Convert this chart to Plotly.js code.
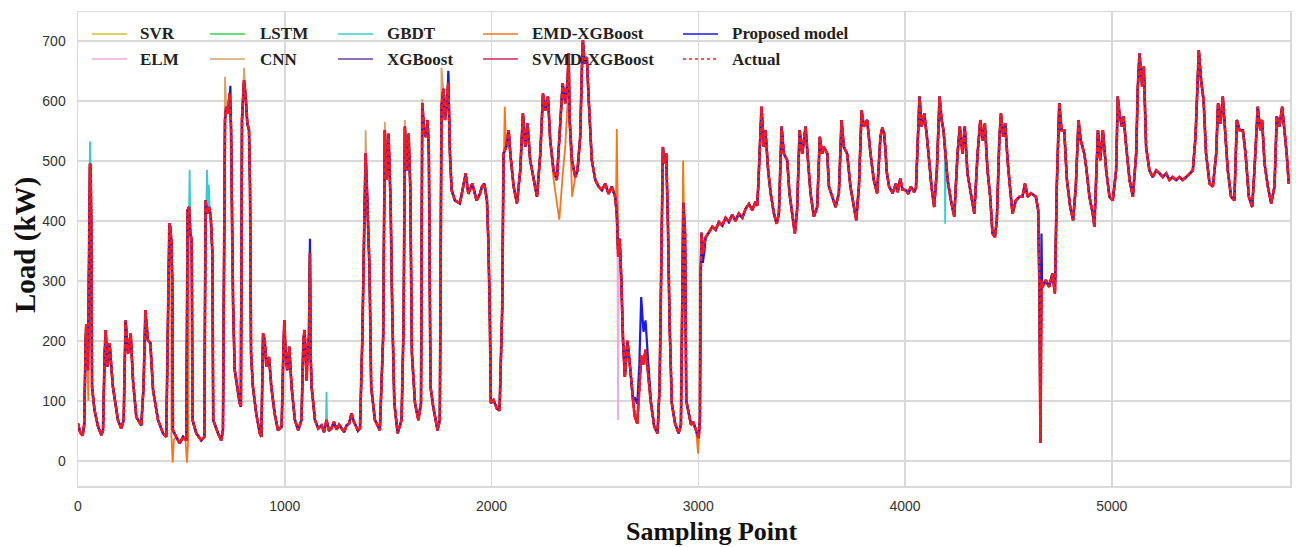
<!DOCTYPE html>
<html>
<head>
<meta charset="utf-8">
<script src="https://cdn.plot.ly/plotly-3.0.1.min.js"></script>
<style>html,body{margin:0;padding:0;background:#fff;}#chart{width:1296px;height:547px;}</style>
</head>
<body>
<div id="chart"></div>
<script>
// ---- Actual load (sampling index, kW) ----
var sampleIdx = [0,10,22,30,37,40,48,53,58,61,64,68,80,97,113,121,
129,134,142,153,161,169,193,209,221,
230,242,255,266,282,306,317,
326,338,350,363,387,411,427,
434,442,446,451,456,459,475,492,508,524,
530,537,543,550,554,572,596,611,
617,625,634,642,650,654,677,693,701,
711,717,725,733,740,745,750,758,769,782,788,
793,803,811,819,827,832,837,846,862,879,887,
895,903,911,924,935,951,967,
985,993,998,1004,1012,1022,1033,1049,1065,1081,
1090,1096,1106,1110,1117,1122,1125,1130,1146,1162,
1178,1190,1202,1214,1226,1238,1251,1263,1275,1287,1299,1311,1323,1333,1343,1354,1364,
1375,1385,1391,1397,1404,1410,1418,1436,1460,
1476,1484,1493,1502,1512,1520,1530,1546,1565,
1575,1581,1589,1599,1607,1615,1630,1646,1659,
1665,1675,1683,1691,1697,1705,1718,1739,1750,
1758,1767,1775,1783,1791,1799,1807,1823,1847,1863,1875,1888,1907,1928,1944,
1954,1965,1978,1984,1991,1997,2010,2026,2039,2045,2052,2058,2071,2083,2091,2107,2123,2139,2152,2163,2174,2187,2203,2220,2236,2249,2260,2273,2284,2300,2316,2332,2344,2357,2368,2373,2378,2389,2405,2416,2429,2437,2442,2450,2461,2471,2485,2502,2518,2534,2550,2566,2582,2598,2606,
2613,2620,2628,2636,2645,2657,2668,2680,2692,2705,2715,2724,2733,2745,2756,2771,2787,2803,
2813,2821,2829,2837,2845,2853,2861,2872,2888,2905,2916,
2928,2936,2942,2955,2965,2975,2985,2995,3002,3008,3011,
3016,3022,3035,3051,3068,3084,3100,3116,3132,3148,3164,3180,3196,3213,3229,3245,3261,3277,3285,
3290,3298,3306,3317,3325,3338,3350,3366,3379,3390,3403,3414,3430,3441,3454,3467,3478,3490,3503,3519,3532,3543,3559,3575,3588,3599,3607,3624,3632,3648,3664,3680,3693,3704,3720,3736,3752,3764,3777,3790,3801,3817,3833,3849,3865,3881,3890,
3899,3905,3912,3923,3940,3956,3965,3977,3988,4004,4016,4028,4044,4053,4061,4070,4080,4093,4106,4117,4128,4141,4154,4167,4177,4186,4194,4206,4222,4238,4254,4265,4278,4289,4302,4318,4335,4351,4364,4375,4386,4399,4412,4423,4435,4444,4456,4464,4475,4485,4496,4509,4520,4536,4553,4568,4580,4593,4609,4633,4644,
4650,4655,4660,4665,4681,4697,4713,4725,4734,4746,4757,4770,4783,4799,4813,4826,4839,4850,4867,
4876,4892,4908,4916,4924,4933,4944,4957,4973,4989,5005,5021,5029,5037,5049,5057,5070,5086,5102,5118,5126,5134,5147,5155,5166,5182,5198,5215,5231,5247,5263,5279,5295,5311,5327,5343,5360,5376,5392,5405,5413,5421,5432,5444,5456,5473,5489,5505,5514,5526,5537,5550,5561,5577,5593,5605,5618,5634,5647,5663,5679,5690,5706,5718,5727,5739,5755,5771,5787,5798,5811,5824,5835,5846,5856];

var actualLoad = [62,48,42,60,201,228,151,290,495,490,401,123,84,57,43,51,
179,218,157,196,157,123,68,54,68,
234,179,212,134,73,59,123,
251,201,196,118,68,46,40,
234,396,390,368,301,51,40,29,40,34,
418,423,379,368,68,46,34,40,
434,412,423,407,346,68,46,34,51,
568,590,579,612,557,401,262,151,123,96,90,
568,634,607,562,551,457,179,123,79,46,40,
212,201,157,173,123,79,51,
57,179,234,179,151,190,123,68,51,68,
201,218,134,179,207,346,179,123,68,54,
59,48,68,50,54,65,52,60,54,48,59,62,79,66,59,50,54,
201,401,512,457,373,318,123,68,51,
207,551,468,545,429,246,96,46,68,
234,557,484,545,457,179,96,68,96,
596,545,540,568,512,123,90,51,68,
590,620,568,596,630,512,451,434,429,457,479,445,462,434,445,
457,462,434,373,262,96,101,87,84,179,257,512,523,551,512,457,429,484,579,523,562,501,468,440,512,612,584,607,534,484,468,568,629,596,634,679,568,501,473,484,540,651,701,662,673,596,501,468,457,451,462,445,457,440,412,
340,370,300,200,140,200,165,120,75,62,120,175,160,185,150,96,57,46,
123,346,523,495,512,401,234,96,62,46,60,
430,380,100,75,60,65,55,45,38,70,300,
380,345,372,380,390,385,398,392,405,398,410,400,412,405,420,428,418,432,425,
457,540,590,523,551,484,446,412,395,412,557,512,501,446,412,379,418,551,512,557,495,446,407,423,540,512,523,512,457,440,423,446,568,523,512,457,423,401,457,584,557,568,512,468,446,540,555,
545,520,480,457,446,462,448,470,452,451,445,457,448,455,540,607,557,579,540,495,457,423,484,607,568,551,512,468,434,407,512,557,512,557,479,446,412,512,568,534,562,484,440,379,373,401,534,579,540,562,501,451,412,434,440,440,462,440,446,440,418,
290,30,300,290,301,290,312,279,457,596,551,551,468,423,401,457,568,534,512,
490,440,412,390,484,551,501,551,484,440,434,484,607,579,557,574,523,468,440,512,623,679,623,657,523,484,473,484,479,473,479,468,473,468,473,468,473,479,484,540,623,684,634,601,512,462,457,512,596,562,607,540,484,440,434,568,551,551,512,440,423,484,590,551,568,495,457,429,457,574,557,590,551,512,462];

// ---- Visible departures of each model from the actual curve: [sample, kW] ----
var svrDev  = [[[52,300],[58,530],[64,400]], [[2922,300],[2927,500],[2933,300]]];
var elmDev  = [[[778,100],[782,234],[786,100]], [[2608,480],[2612,68],[2616,320]]];
var lstmDev = [[[52,300],[58,520],[64,400]]];
var cnnDev  = [[[706,400],[711,640],[717,590]], [[796,580],[803,655],[811,607]], [[1387,420],[1391,551],[1397,457]], [[1480,400],[1484,565],[1493,468]], [[1577,400],[1581,568],[1589,484]], [[1661,450],[1665,603],[1675,545]], [[1754,400],[1758,655],[1767,620]]];
var gbdtDev = [[[52,300],[58,532],[64,400]], [[537,423],[540,485],[544,390]], [[620,420],[624,485],[628,420]], [[630,420],[633,460],[637,420]], [[1199,62],[1202,115],[1205,62]], [[4192,520],[4194,395],[4197,500]]];
var xgbDev  = [[[1787,600],[1791,645],[1797,530]]];
var emdDev  = [[[45,180],[50,100],[55,320]], [[452,40],[458,-3],[464,35]], [[520,35],[527,-3],[533,35]], [[2055,400],[2064,590],[2071,523]], [[2284,534],[2300,470],[2316,430],[2328,402],[2345,480],[2357,525],[2368,600],[2373,660],[2378,560],[2390,440],[2405,473]], [[2602,430],[2606,553],[2609,400]], [[2922,300],[2927,500],[2933,300]], [[2990,50],[2999,12],[3006,60]]];
var svmdDev = [];
var propDev = [[[731,590],[737,625],[742,520]], [[1119,300],[1122,370],[1125,179]], [[1787,600],[1791,650],[1797,530]], [[2684,100],[2692,106],[2705,95],[2715,160],[2724,273],[2735,215],[2745,234],[2756,175],[2771,100]], [[3016,380],[3022,330],[3030,350]], [[4657,200],[4660,379],[4663,290]]];

var seriesNames  = ['SVR','ELM','LSTM','CNN','GBDT','XGBoost','EMD-XGBoost','SVMD-XGBoost','Proposed model','Actual'];
var seriesColors = ['#d2c31e','#f0a8e6','#33d646','#d8a26a','#33cfd0','#6b3fa0','#f5761e','#d12a55','#1a1ae6','#ff1a1a'];

function build(dev){
  var pts = [];
  for (var i=0;i<sampleIdx.length;i++){
    var x = sampleIdx[i], keep = true;
    for (var s=0;s<dev.length;s++){
      var a = dev[s][0][0], b = dev[s][dev[s].length-1][0];
      if (x >= a && x <= b) { keep = false; break; }
    }
    if (keep) pts.push([x, actualLoad[i]]);
  }
  dev.forEach(function(seg){ seg.forEach(function(p){ pts.push(p); }); });
  pts.sort(function(p,q){ return p[0]-q[0]; });
  return {x: pts.map(function(p){return p[0];}), y: pts.map(function(p){return p[1];})};
}

var devs = [svrDev, elmDev, lstmDev, cnnDev, gbdtDev, xgbDev, emdDev, svmdDev, propDev, null];
var widths = [1.8,1.8,1.8,1.8,1.8,2.0,1.8,2.6,2.2,2.6];
var dashes = ['solid','solid','solid','solid','solid','solid','solid','solid','solid','5px,1.5px'];
var traces = [];
for (var k=0;k<seriesNames.length;k++){
  var d = devs[k] ? build(devs[k]) : {x: sampleIdx, y: actualLoad};
  traces.push({type:'scatter', mode:'lines', name: seriesNames[k], x: d.x, y: d.y,
    line: {color: seriesColors[k], width: widths[k], dash: dashes[k]},
    showlegend: false, hoverinfo: 'skip'});
}

// ---- manual legend (5 columns x 2 rows, like the reference) ----
var L = 78, R = 1290, T = 12, B = 486;
function px(x){ return (x - L)/(R - L); }
function py(y){ return (B - y)/(B - T); }
var legCols = [[92,138],[210,258],[338,385],[483,530],[683,730]];
var legRows = [34, 59];
var legOrder = [[0,1],[2,3],[4,5],[6,7],[8,9]];
var shapes = [], annotations = [];
legOrder.forEach(function(col, c){
  col.forEach(function(si, r){
    var yy = py(legRows[r]);
    shapes.push({type:'line', xref:'paper', yref:'paper', x0: px(legCols[c][0]), x1: px(legCols[c][0]+35), y0: yy, y1: yy,
      line:{color: seriesColors[si], width: 1.5, dash: si===9 ? 'dot' : 'solid'}});
    annotations.push({xref:'paper', yref:'paper', x: px(legCols[c][1]), y: yy, xanchor:'left', yanchor:'middle',
      text: '<b>' + seriesNames[si] + '</b>', showarrow:false,
      font:{family:'Liberation Serif, Times New Roman, serif', size:17, color:'#222'}});
  });
});
annotations.push({xref:'paper', yref:'paper', x: px(712), y: py(531), xanchor:'center', yanchor:'middle',
  text:'<b>Sampling Point</b>', showarrow:false, font:{family:'Liberation Serif, Times New Roman, serif', size:26, color:'#111'}});
annotations.push({xref:'paper', yref:'paper', x: px(25), y: py(245), xanchor:'center', yanchor:'middle', textangle:-90,
  text:'<b>Load (kW)</b>', showarrow:false, font:{family:'Liberation Serif, Times New Roman, serif', size:29, color:'#111'}});

var axisCommon = {showgrid:true, gridcolor:'#d9d9d9', gridwidth:1.5, zeroline:false, showline:true, mirror:true,
  linecolor:'#d9d9d9', linewidth:1.5, ticks:'', tickfont:{family:'Liberation Sans, Arial, sans-serif', size:14, color:'#333'}};

var layout = {
  width:1296, height:547, margin:{l:78, r:6, t:12, b:61},
  paper_bgcolor:'#ffffff', plot_bgcolor:'#ffffff', showlegend:false,
  xaxis: Object.assign({}, axisCommon, {range:[0,5862], tick0:0, dtick:1000, ticklabelstandoff:7}),
  yaxis: Object.assign({}, axisCommon, {range:[-42,748], tick0:0, dtick:100, ticklabelstandoff:8}),
  shapes: shapes, annotations: annotations
};

Plotly.newPlot('chart', traces, layout, {staticPlot:true});
</script>
</body>
</html>
